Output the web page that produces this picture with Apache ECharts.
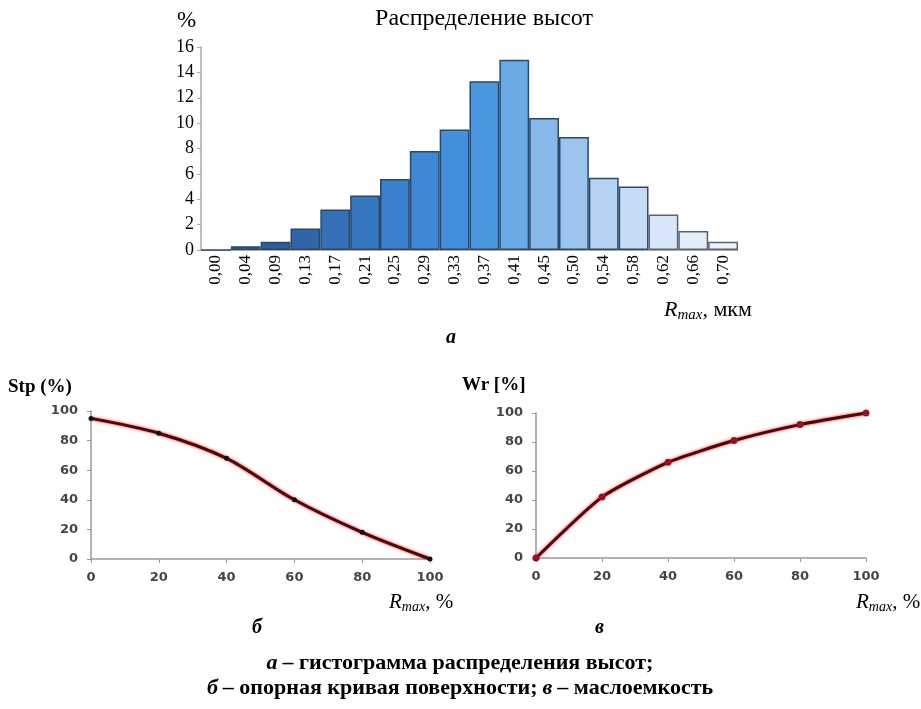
<!DOCTYPE html>
<html><head><meta charset="utf-8">
<script src="https://cdn.jsdelivr.net/npm/echarts@6/dist/echarts.min.js"></script>
<style>html,body{margin:0;padding:0;background:#fff}#c{width:921px;height:709px}</style>
</head><body><div id="c"></div>
<script>
// ---- data ----
var histCategories = ['0,00','0,04','0,09','0,13','0,17','0,21','0,25','0,29','0,33','0,37','0,41','0,45','0,50','0,54','0,58','0,62','0,66','0,70'];
var histValues = [0, 0.3, 0.65, 1.7, 3.2, 4.3, 5.6, 7.8, 9.5, 13.3, 15.0, 10.4, 8.9, 5.7, 5.0, 2.8, 1.5, 0.65];
var histTicks = [0, 2, 4, 6, 8, 10, 12, 14, 16];
var rmaxPct = [0, 20, 40, 60, 80, 100];
var stpValues = [95, 85, 68, 40, 18, 0];
var wrValues = [0, 42, 66, 81, 92, 100];

// ---- styles ----
var barPalette = ['#2a5a96','#2b5c99','#2c5f9e','#2f66a9','#3370b8','#3677c2','#3b80cc','#3f88d5','#438fdb','#4a97e0','#6aaae6','#86b9ea','#9cc5ee','#b4d2f2','#c5dcf4','#d7e6f8','#e3eef9','#ecf3fb'];
var serif = '"Liberation Serif","Times New Roman",serif';
var sans = '"DejaVu Sans",Verdana,sans-serif';

var chart = echarts.init(document.getElementById('c'), null, {renderer:'canvas'});

function rmaxRich(unit, size, subSize){
  return {
    text: '{i|R}{s|max}{n|, ' + unit + '}',
    textStyle: {rich: {
      i:{fontFamily:serif,fontStyle:'italic',fontWeight:'normal',fontSize:size,color:'#000',lineHeight:size+3,verticalAlign:'middle'},
      s:{fontFamily:serif,fontStyle:'italic',fontWeight:'normal',fontSize:subSize,color:'#000',lineHeight:subSize,verticalAlign:'bottom'},
      n:{fontFamily:serif,fontWeight:'normal',fontSize:size,color:'#000',lineHeight:size+3,verticalAlign:'middle'}
    }}
  };
}
function t(text, left, top, opts){
  return {text:text, left:left, top:top, padding:0, itemGap:0,
    textStyle:Object.assign({fontFamily:serif,fontSize:20,color:'#000',fontWeight:'normal'}, opts||{})};
}
var capRich = {
  b:{fontFamily:serif,fontSize:22,fontWeight:'bold',color:'#000'},
  bi:{fontFamily:serif,fontSize:22,fontWeight:'bold',fontStyle:'italic',color:'#000'}
};

var titles = [
  t('%', 177, 9, {fontSize:23}),
  t('Распределение высот', 484, 7, {fontSize:24}),
  Object.assign({left:664, top:298, padding:0}, rmaxRich('мкм', 22, 15)),
  t('а', 446, 328, {fontWeight:'bold',fontStyle:'italic'}),
  t('Stp (%)', 8, 378, {fontWeight:'bold',fontSize:19}),
  t('Wr [%]', 462, 376, {fontWeight:'bold',fontSize:19}),
  Object.assign({left:389, top:590, padding:0}, rmaxRich('%', 21, 14)),
  Object.assign({left:856, top:590, padding:0}, rmaxRich('%', 21, 14)),
  t('б', 252, 618, {fontWeight:'bold',fontStyle:'italic'}),
  t('в', 595, 618, {fontWeight:'bold',fontStyle:'italic'}),
  {text:'{bi|а} {b|– гистограмма распределения высот;}', left:460, top:652, padding:0, textAlign:'center', textStyle:{rich:capRich}},
  {text:'{bi|б} {b|– опорная кривая поверхности;} {bi|в} {b|– маслоемкость}', left:460, top:677, padding:0, textAlign:'center', textStyle:{rich:capRich}}
];
titles[1].textAlign = 'center';

var lineAxisLabel = {fontFamily:sans, fontWeight:'bold', fontSize:13, color:'#454545'};
var lineAxisLine = {show:true, lineStyle:{color:'#999', width:1.5}};

function pairs(xs, ys){ return xs.map(function(x,i){return [x, ys[i]];}); }

chart.setOption({
  animation:false,
  backgroundColor:'#fff',
  title: titles,
  grid:[
    {left:201, right:183, top:47, bottom:459},
    {left:91, right:491, top:411, bottom:150},
    {left:536, right:55, top:413, bottom:151}
  ],
  xAxis:[
    {gridIndex:0, type:'category', data:histCategories,
     axisLine:{show:true, lineStyle:{color:'#aaa', width:1}},
     axisTick:{show:false},
     axisLabel:{rotate:90, interval:0, fontFamily:serif, fontSize:17, color:'#000', margin:5}},
    {gridIndex:1, type:'value', min:0, max:100, interval:20,
     axisLine:lineAxisLine, axisTick:{show:true, length:4, lineStyle:{color:'#999'}},
     splitLine:{show:false}, axisLabel:Object.assign({margin:12}, lineAxisLabel)},
    {gridIndex:2, type:'value', min:0, max:100, interval:20,
     axisLine:lineAxisLine, axisTick:{show:true, length:4, lineStyle:{color:'#999'}},
     splitLine:{show:false}, axisLabel:Object.assign({margin:12}, lineAxisLabel)}
  ],
  yAxis:[
    {gridIndex:0, type:'value', min:histTicks[0], max:histTicks[histTicks.length-1], interval:2,
     axisLine:{show:true, lineStyle:{color:'#aaa', width:1.5}},
     axisTick:{show:true, length:4, lineStyle:{color:'#aaa'}},
     splitLine:{show:false},
     axisLabel:{fontFamily:serif, fontSize:18, color:'#000', margin:7}},
    {gridIndex:1, type:'value', min:0, max:100, interval:20,
     axisLine:lineAxisLine, axisTick:{show:true, length:4, lineStyle:{color:'#999'}},
     splitLine:{show:false}, axisLabel:Object.assign({margin:13}, lineAxisLabel)},
    {gridIndex:2, type:'value', min:0, max:100, interval:20,
     axisLine:lineAxisLine, axisTick:{show:true, length:4, lineStyle:{color:'#999'}},
     splitLine:{show:false}, axisLabel:Object.assign({margin:13}, lineAxisLabel)}
  ],
  series:[
    {type:'bar', xAxisIndex:0, yAxisIndex:0, barCategoryGap:'0%',
     data: histValues.map(function(v,i){
       return {value:v, itemStyle:{color:barPalette[i], borderColor:i>=15?'#5a6470':'#2c4868', borderWidth:1.5}};
     })},
    {type:'line', xAxisIndex:1, yAxisIndex:1, data:pairs(rmaxPct, stpValues), smooth:0.3,
     symbol:'circle', symbolSize:5, itemStyle:{color:'#111'},
     lineStyle:{color:'#4a0808', width:3, shadowColor:'#ff1010', shadowBlur:3}},
    {type:'line', xAxisIndex:2, yAxisIndex:2, data:pairs(rmaxPct, wrValues), smooth:0.2,
     symbol:'circle', symbolSize:7, itemStyle:{color:'#9a1020'},
     lineStyle:{color:'#4a0808', width:3, shadowColor:'#ff1010', shadowBlur:3}}
  ]
});
</script></body></html>
